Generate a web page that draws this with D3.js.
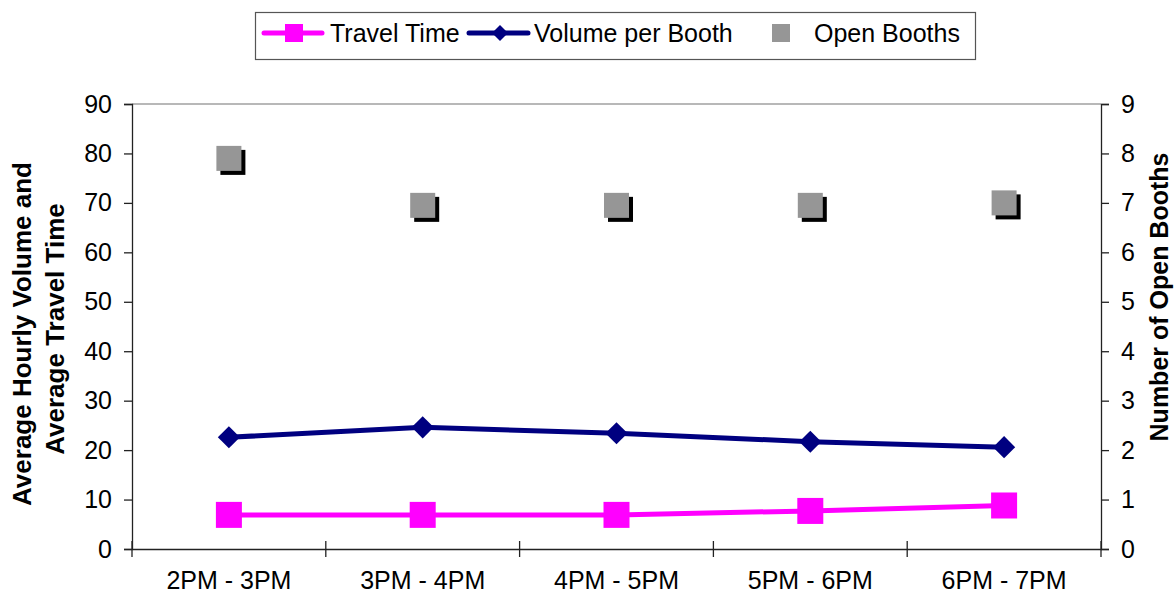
<!DOCTYPE html>
<html>
<head>
<meta charset="utf-8">
<script src="https://cdn.jsdelivr.net/npm/d3@7"></script>
<style>
  html, body { margin: 0; padding: 0; background: #fff; }
  svg { display: block; font-family: "Liberation Sans", Arial, sans-serif; }
</style>
</head>
<body>
<svg id="chart" width="1175" height="599"></svg>
<script>
const categories = ["2PM - 3PM", "3PM - 4PM", "4PM - 5PM", "5PM - 6PM", "6PM - 7PM"];
const travelTime = [6.9, 6.9, 6.9, 7.7, 8.8];
const volumePerBooth = [22.6, 24.6, 23.4, 21.7, 20.6];
const openBooths = [7.9, 6.95, 6.95, 6.95, 7.0];
const leftTicks = [0, 10, 20, 30, 40, 50, 60, 70, 80, 90];
const rightTicks = [0, 1, 2, 3, 4, 5, 6, 7, 8, 9];
const seriesNames = ["Travel Time", "Volume per Booth", "Open Booths"];

const svg = d3.select("#chart");
const L = 132, R = 1101, T = 104, B = 549;

const x = d3.scaleBand().domain(categories).range([L, R]).padding(0);
const yL = d3.scaleLinear().domain([0, 90]).range([B, T]);
const yR = d3.scaleLinear().domain([0, 9]).range([B, T]);
const cx = c => x(c) + x.bandwidth() / 2;

const fontSize = 25;

// top border of plot area
svg.append("line").attr("x1", L).attr("x2", R).attr("y1", T).attr("y2", T)
  .attr("stroke", "#a0a0a0").attr("stroke-width", 1.5);

// Left axis
const gL = svg.append("g").attr("transform", `translate(${L},0)`)
  .call(d3.axisLeft(yL).tickValues(leftTicks).tickSize(8).tickPadding(12).tickFormat(d3.format("d")));
gL.select(".domain").attr("stroke", "#222").attr("stroke-width", 1.3);
gL.selectAll(".tick line").attr("stroke", "#222").attr("stroke-width", 1.3);
gL.selectAll(".tick text").attr("font-size", fontSize).attr("fill", "#000")
  .attr("font-family", "Liberation Sans, Arial, sans-serif");

// Right axis
const gR = svg.append("g").attr("transform", `translate(${R},0)`)
  .call(d3.axisRight(yR).tickValues(rightTicks).tickSize(8).tickPadding(12).tickFormat(d3.format("d")));
gR.select(".domain").attr("stroke", "#222").attr("stroke-width", 1.3);
gR.selectAll(".tick line").attr("stroke", "#222").attr("stroke-width", 1.3);
gR.selectAll(".tick text").attr("font-size", fontSize).attr("fill", "#000")
  .attr("font-family", "Liberation Sans, Arial, sans-serif");

// Bottom axis (labels at centers, ticks at boundaries)
const gB = svg.append("g").attr("transform", `translate(0,${B})`)
  .call(d3.axisBottom(x).tickSize(0).tickPadding(22));
gB.select(".domain").attr("stroke", "#222").attr("stroke-width", 1.3);
gB.selectAll(".tick text").attr("font-size", fontSize).attr("fill", "#000")
  .attr("font-family", "Liberation Sans, Arial, sans-serif");
const boundaries = categories.map(c => x(c)).concat([R]);
svg.append("g").selectAll("line").data(boundaries).join("line")
  .attr("x1", d => d).attr("x2", d => d).attr("y1", B - 8).attr("y2", B + 8)
  .attr("stroke", "#222").attr("stroke-width", 1.3);

// Axis titles
svg.append("text")
  .attr("transform", `translate(22,${334}) rotate(-90)`)
  .attr("text-anchor", "middle").attr("dominant-baseline", "central")
  .attr("font-size", 26).attr("font-weight", "bold")
  .text("Average Hourly Volume and");
svg.append("text")
  .attr("transform", `translate(55,${329}) rotate(-90)`)
  .attr("text-anchor", "middle").attr("dominant-baseline", "central")
  .attr("font-size", 26).attr("font-weight", "bold")
  .text("Average Travel Time");
svg.append("text")
  .attr("transform", `translate(1159,${297}) rotate(-90)`)
  .attr("text-anchor", "middle").attr("dominant-baseline", "central")
  .attr("font-size", 25).attr("font-weight", "bold")
  .text("Number of Open Booths");

// Open booths: gray squares with black shadow
const sq = 25, sh = 4;
const gO = svg.append("g");
gO.selectAll("rect.shadow").data(openBooths).join("rect").attr("class", "shadow")
  .attr("x", (d, i) => cx(categories[i]) - sq / 2 + sh)
  .attr("y", d => yR(d) - sq / 2 + sh)
  .attr("width", sq).attr("height", sq).attr("fill", "#000");
gO.selectAll("rect.main").data(openBooths).join("rect").attr("class", "main")
  .attr("x", (d, i) => cx(categories[i]) - sq / 2)
  .attr("y", d => yR(d) - sq / 2)
  .attr("width", sq).attr("height", sq).attr("fill", "#969696");

// Volume per booth line
const lineV = d3.line().x((d, i) => cx(categories[i])).y(d => yL(d));
svg.append("path").datum(volumePerBooth).attr("d", lineV)
  .attr("fill", "none").attr("stroke", "#000080").attr("stroke-width", 5);
const diamond = d3.symbol().type(d3.symbolDiamond2).size(2 * 12.5 * 12.5);
svg.append("g").selectAll("path").data(volumePerBooth).join("path")
  .attr("d", diamond)
  .attr("transform", (d, i) => `translate(${cx(categories[i])},${yL(d)})`)
  .attr("fill", "#000080");

// Travel time line
svg.append("path").datum(travelTime).attr("d", lineV)
  .attr("fill", "none").attr("stroke", "#FF00FF").attr("stroke-width", 5);
const ps = 26;
svg.append("g").selectAll("rect").data(travelTime).join("rect")
  .attr("x", (d, i) => cx(categories[i]) - ps / 2)
  .attr("y", d => yL(d) - ps / 2)
  .attr("width", ps).attr("height", ps).attr("fill", "#FF00FF");

// Legend
const lg = svg.append("g");
lg.append("rect").attr("x", 255.5).attr("y", 12.5).attr("width", 720).attr("height", 47)
  .attr("fill", "#fff").attr("stroke", "#555").attr("stroke-width", 1.2);
const ly = 33;
// Travel Time
lg.append("line").attr("x1", 264).attr("x2", 322).attr("y1", ly).attr("y2", ly)
  .attr("stroke", "#FF00FF").attr("stroke-width", 5).attr("stroke-linecap", "round");
lg.append("rect").attr("x", 285).attr("y", ly - 9).attr("width", 18).attr("height", 18).attr("fill", "#FF00FF");
lg.append("text").attr("x", 330).attr("y", ly).attr("dominant-baseline", "central")
  .attr("font-size", fontSize).text(seriesNames[0]);
// Volume per Booth
lg.append("line").attr("x1", 469).attr("x2", 528).attr("y1", ly).attr("y2", ly)
  .attr("stroke", "#000080").attr("stroke-width", 5).attr("stroke-linecap", "round");
lg.append("path").attr("d", d3.symbol().type(d3.symbolDiamond2).size(2 * 9 * 9))
  .attr("transform", `translate(500,${ly})`).attr("fill", "#000080");
lg.append("text").attr("x", 534).attr("y", ly).attr("dominant-baseline", "central")
  .attr("font-size", fontSize).text(seriesNames[1]);
// Open Booths
lg.append("rect").attr("x", 772).attr("y", ly - 9).attr("width", 18).attr("height", 18).attr("fill", "#969696");
lg.append("text").attr("x", 814).attr("y", ly).attr("dominant-baseline", "central")
  .attr("font-size", fontSize).text(seriesNames[2]);
</script>
</body>
</html>
